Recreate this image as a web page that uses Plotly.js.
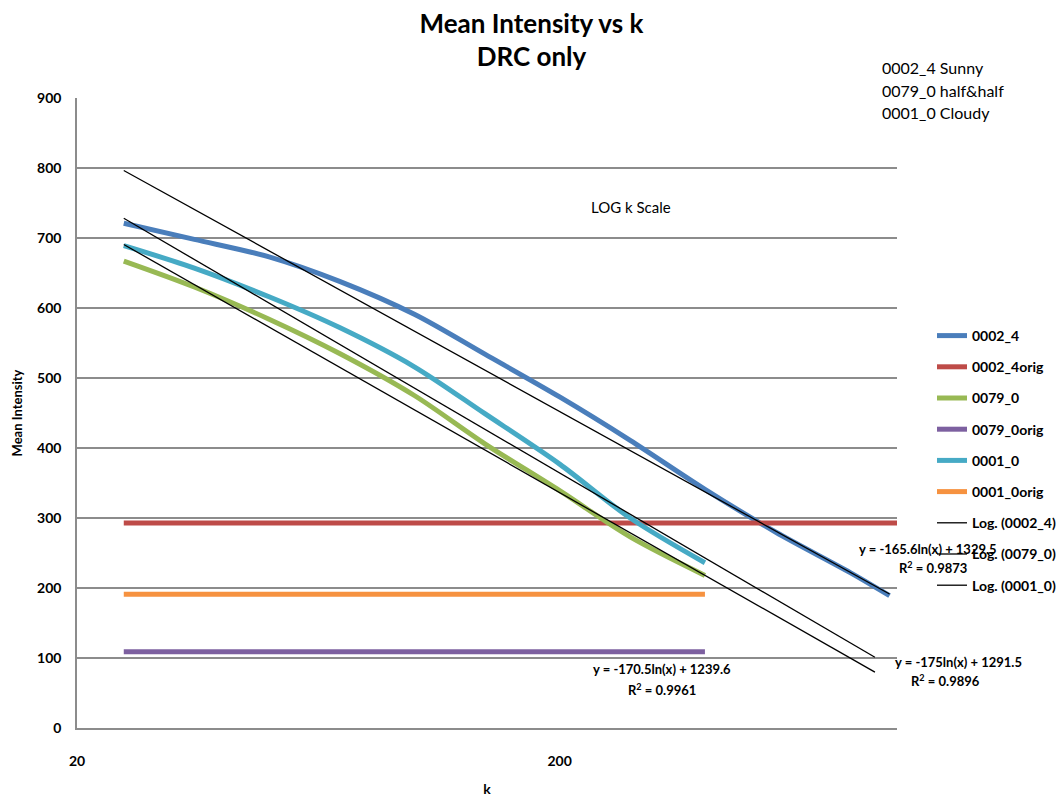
<!DOCTYPE html>
<html>
<head>
<meta charset="utf-8">
<script src="https://cdn.plot.ly/plotly-3.0.1.min.js"></script>
<style>
  html, body { margin: 0; padding: 0; background: #ffffff; }
  #chart { width: 1063px; height: 797px; }
</style>
</head>
<body>
<div id="chart"></div>
<script>
// k values at which each intensity curve was sampled
const kLong = [25, 35, 50, 70, 100, 140, 200, 280, 400, 560, 800, 965];
const kShort = [25, 35, 50, 70, 100, 140, 200, 280, 400];

// Mean intensity after DRC
const sunny = [721, 698, 673, 638, 591, 534, 473, 411, 341, 280, 222, 189];   // 0002_4
const half = [667, 630, 584, 535, 475, 406, 339, 273, 218];                    // 0079_0
const cloudy = [689, 657, 616, 572, 516, 449, 377, 300, 236];                  // 0001_0

// Mean intensity of the original images (constant reference levels)
const kSunnyOrig = [25, 1000];
const sunnyOrig = [293, 293];       // 0002_4orig
const kShortOrig = [25, 400];
const halfOrig = [109, 109];        // 0079_0orig
const cloudyOrig = [191, 191];      // 0001_0orig

// Logarithmic trendlines y = a*ln(x) + b
const trendSunny = { a: -165.6, b: 1329.5, r2: 0.9873, k: [25, 965] };
const trendHalf = { a: -170.5, b: 1239.6, r2: 0.9961, k: [25, 900] };
const trendCloudy = { a: -175, b: 1291.5, r2: 0.9896, k: [25, 900] };

const trendY = t => t.k.map(x => t.a * Math.log(x) + t.b);
const eqText = t => 'y = ' + t.a + 'ln(x) + ' + t.b.toFixed(1);
const r2Text = t => 'R<sup>2</sup> = ' + t.r2.toFixed(4);

const FONT = 'Lato, "Open Sans", "DejaVu Sans", sans-serif';

function series(name, x, y, color, width, smooth, group) {
  return {
    type: 'scatter', mode: 'lines', name: name, x: x, y: y,
    legendgroup: group,
    line: { color: color, width: width, shape: smooth ? 'spline' : 'linear', smoothing: 0.9 },
    hoverinfo: 'x+y+name'
  };
}

const traces = [
  series('0002_4', kLong, sunny, '#4a7ebb', 5, true, 'g1'),
  series('0002_4orig', kSunnyOrig, sunnyOrig, '#be4b48', 5, false, 'g2'),
  series('0079_0', kShort, half, '#98b954', 5, true, 'g3'),
  series('0079_0orig', kShortOrig, halfOrig, '#7d60a0', 5, false, 'g4'),
  series('0001_0', kShort, cloudy, '#46aac5', 5, true, 'g5'),
  series('0001_0orig', kShortOrig, cloudyOrig, '#f69240', 5, false, 'g6'),
  series('Log. (0002_4)', trendSunny.k, trendY(trendSunny), '#000000', 1.3, false, 'g7'),
  series('Log. (0079_0)', trendHalf.k, trendY(trendHalf), '#000000', 1.3, false, 'g8'),
  series('Log. (0001_0)', trendCloudy.k, trendY(trendCloudy), '#000000', 1.3, false, 'g9')
];

// plot area in pixels: left 77, right 897, top 98, bottom 728
const L = 77, R = 897, T = 98, B = 728;
const px = x => (x - L) / (R - L);
const py = y => 1 - (y - T) / (B - T);

function note(text, x, y, opts) {
  return Object.assign({
    text: text, xref: 'paper', yref: 'paper', x: px(x), y: py(y),
    xanchor: 'center', yanchor: 'middle', showarrow: false,
    font: { family: FONT, size: 13, color: '#000000', weight: 'bold' }
  }, opts || {});
}

const plainFont = { family: FONT, size: 15, color: '#000000' };
const cornerFont = { family: FONT, size: 16, color: '#000000' };

const annotations = [
  note(eqText(trendSunny), 928, 549),
  note(r2Text(trendSunny), 933, 567),
  note(eqText(trendCloudy), 958, 662),
  note(r2Text(trendCloudy), 945, 680),
  note(eqText(trendHalf), 662, 669),
  note(r2Text(trendHalf), 662, 689),
  note('LOG k Scale', 631, 207, { font: plainFont }),
  note('0002_4 Sunny', 880, 68, { xanchor: 'left', font: cornerFont }),
  note('0079_0 half&amp;half', 880, 90, { xanchor: 'left', font: cornerFont }),
  note('0001_0 Cloudy', 880, 112, { xanchor: 'left', font: cornerFont })
];

const layout = {
  width: 1063, height: 797,
  margin: { l: L, r: 1063 - R, t: T, b: 797 - B, pad: 0, autoexpand: false },
  paper_bgcolor: '#ffffff', plot_bgcolor: '#ffffff',
  font: { family: FONT, size: 12, color: '#000000' },
  title: {
    text: 'Mean Intensity vs k<br>DRC only',
    x: 0.5, xanchor: 'center', y: 0.959, yanchor: 'middle',
    font: { family: FONT, size: 26, color: '#000000', weight: 'bold' }
  },
  xaxis: {
    type: 'log', range: [Math.log10(20), 3],
    tickvals: [20, 200], ticktext: ['20', '200'],
    showgrid: false, zeroline: false,
    showline: true, linecolor: '#8c8c8c', linewidth: 1.5,
    ticks: '', ticklabelstandoff: 19,
    tickfont: { family: FONT, size: 14, color: '#000000', weight: 'bold' },
    title: { text: 'k', standoff: 21, font: { family: FONT, size: 14, color: '#000000', weight: 'bold' } },
    automargin: false
  },
  yaxis: {
    range: [0, 900], dtick: 100, tick0: 0,
    showgrid: true, gridcolor: '#8c8c8c', gridwidth: 1.5,
    zeroline: false,
    showline: true, linecolor: '#8c8c8c', linewidth: 1.5,
    ticks: '', ticklabelstandoff: 11,
    tickfont: { family: FONT, size: 14, color: '#000000', weight: 'bold' },
    title: { text: 'Mean Intensity', standoff: 12, font: { family: FONT, size: 13, color: '#000000', weight: 'bold' } },
    automargin: false
  },
  showlegend: true,
  legend: {
    x: px(932), y: py(320), xanchor: 'left', yanchor: 'top',
    bgcolor: 'rgba(0,0,0,0)', borderwidth: 0,
    tracegroupgap: 10, itemwidth: 30,
    font: { family: FONT, size: 14, color: '#000000', weight: 'bold' }
  },
  annotations: annotations
};

Plotly.newPlot('chart', traces, layout, { displayModeBar: false, responsive: false });
</script>
</body>
</html>
